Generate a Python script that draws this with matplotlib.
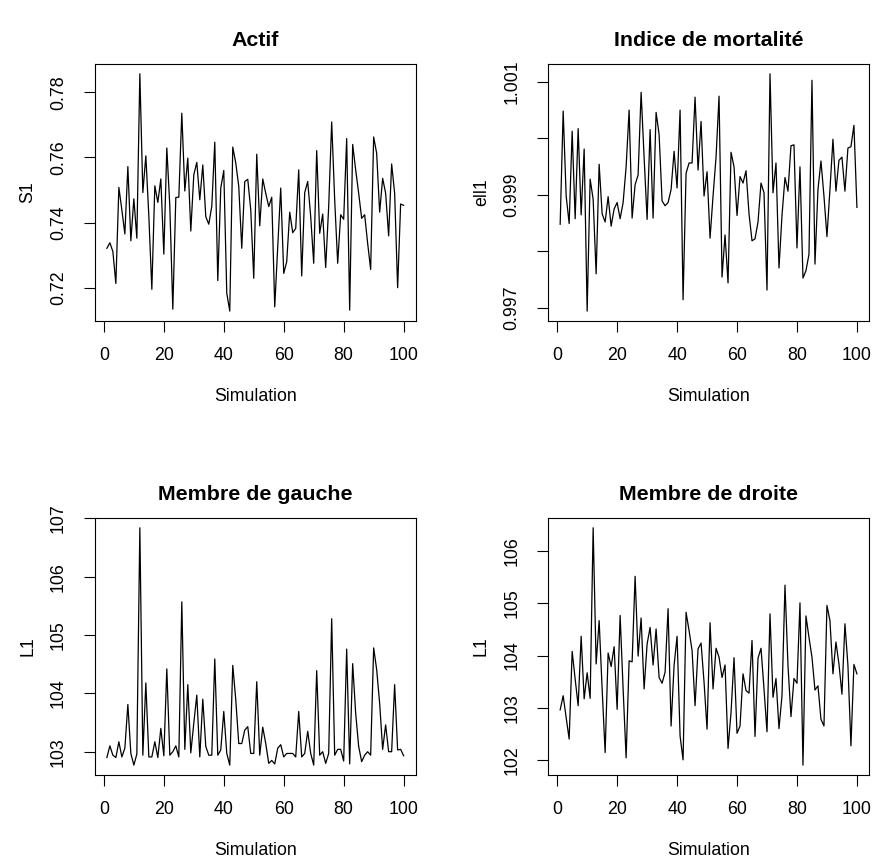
import numpy as np
import matplotlib
matplotlib.use("Agg")
from matplotlib import pyplot as plt

plt.rcParams['font.family'] = ['Liberation Sans', 'DejaVu Sans']

sim = np.arange(1, 101)

s1 = [0.7321, 0.7338, 0.7311, 0.7213, 0.7508, 0.7439, 0.7365, 0.7572, 0.7344, 0.7473,
      0.7352, 0.7857, 0.7492, 0.7605, 0.7420, 0.7195, 0.7513, 0.7462, 0.7534, 0.7303,
      0.7629, 0.7450, 0.7134, 0.7477, 0.7478, 0.7736, 0.7497, 0.7598, 0.7374, 0.7547,
      0.7585, 0.7470, 0.7577, 0.7418, 0.7395, 0.7450, 0.7647, 0.7222, 0.7506, 0.7560,
      0.7183, 0.7128, 0.7632, 0.7583, 0.7511, 0.7321, 0.7526, 0.7533, 0.7439, 0.7229,
      0.7610, 0.7390, 0.7534, 0.7490, 0.7449, 0.7478, 0.7141, 0.7326, 0.7506, 0.7244,
      0.7280, 0.7432, 0.7369, 0.7382, 0.7562, 0.7236, 0.7492, 0.7526, 0.7418, 0.7275,
      0.7621, 0.7367, 0.7426, 0.7262, 0.7450, 0.7709, 0.7470, 0.7275, 0.7424, 0.7410,
      0.7658, 0.7131, 0.7640, 0.7562, 0.7490, 0.7413, 0.7424, 0.7336, 0.7256, 0.7663,
      0.7613, 0.7432, 0.7536, 0.7490, 0.7359, 0.7580, 0.7490, 0.7200, 0.7457, 0.7453]

ell1 = [0.998477, 1.000483, 0.998977, 0.998489, 1.000126, 0.998575, 1.000172, 0.998644, 0.999810, 0.996937,
        0.999276, 0.998920, 0.997598, 0.999540, 0.998661, 0.998517, 0.998966, 0.998443, 0.998747, 0.998862,
        0.998575, 0.998862, 0.999494, 1.000500, 0.998586, 0.999178, 0.999350, 1.000816, 0.999667, 0.998563,
        1.000155, 0.998586, 1.000460, 1.000070, 0.998890, 0.998805, 0.998862, 0.999092, 0.999770, 0.999120,
        1.000500, 0.997138, 0.999380, 0.999563, 0.999563, 1.000730, 0.999437, 1.000299, 0.998977, 0.999408,
        0.998230, 0.998977, 0.999667, 1.000747, 0.997540, 0.998287, 0.997437, 0.999753, 0.999494, 0.998632,
        0.999322, 0.999207, 0.999425, 0.998661, 0.998184, 0.998218, 0.998517, 0.999207, 0.999034, 0.997310,
        1.001144, 0.999034, 0.999563, 0.997701, 0.998632, 0.999305, 0.999063, 0.999868, 0.999885, 0.998057,
        0.999494, 0.997523, 0.997655, 0.997943, 1.001029, 0.997770, 0.999092, 0.999598, 0.998977, 0.998259,
        0.999092, 0.999983, 0.999063, 0.999609, 0.999667, 0.999063, 0.999828, 0.999851, 1.000230, 0.998776]

l1_gauche = [102.90, 103.10, 102.94, 102.90, 103.17, 102.91, 103.06, 103.81, 102.97, 102.77,
             102.96, 106.84, 102.94, 104.18, 102.91, 102.91, 103.17, 102.90, 103.40, 102.93,
             104.42, 102.94, 103.00, 103.10, 102.91, 105.57, 103.04, 104.15, 102.98, 103.49,
             103.97, 102.91, 103.90, 103.09, 102.94, 102.94, 104.59, 102.94, 103.03, 103.69,
             102.97, 102.77, 104.48, 103.89, 103.14, 103.14, 103.37, 103.43, 102.97, 102.97,
             104.20, 102.94, 103.42, 103.14, 102.80, 102.85, 102.79, 103.06, 103.12, 102.91,
             102.97, 102.97, 102.97, 102.91, 103.69, 102.91, 102.97, 103.35, 102.97, 102.77,
             104.39, 102.94, 103.00, 102.80, 102.97, 105.28, 102.94, 103.04, 103.04, 102.84,
             104.76, 102.79, 104.51, 103.66, 103.09, 102.83, 102.94, 103.00, 102.94, 104.78,
             104.41, 103.83, 103.04, 103.46, 103.00, 103.00, 104.15, 103.03, 103.04, 102.93]

l1_droite = [102.96, 103.23, 102.81, 102.40, 104.08, 103.55, 103.04, 104.37, 103.17, 103.67,
             103.18, 106.45, 103.84, 104.67, 103.36, 102.14, 104.05, 103.79, 104.17, 102.97,
             104.77, 103.36, 102.04, 103.90, 103.88, 105.52, 103.99, 104.72, 103.36, 104.22,
             104.54, 103.82, 104.51, 103.58, 103.47, 103.68, 104.90, 102.65, 103.81, 104.37,
             102.46, 102.00, 104.83, 104.48, 104.10, 103.04, 104.13, 104.24, 103.49, 102.59,
             104.63, 103.36, 104.14, 103.97, 103.58, 103.82, 102.22, 102.91, 103.96, 102.51,
             102.65, 103.65, 103.33, 103.28, 104.29, 102.45, 103.95, 104.14, 103.36, 102.54,
             104.80, 103.20, 103.56, 102.60, 103.23, 105.35, 103.81, 102.83, 103.56, 103.47,
             105.01, 101.90, 104.76, 104.35, 103.97, 103.34, 103.42, 102.78, 102.65, 104.96,
             104.67, 103.65, 104.26, 103.84, 103.26, 104.61, 103.81, 102.27, 103.83, 103.65]

titles = ["Actif", "Indice de mortalité", "Membre de gauche", "Membre de droite"]
ylabels = ["S1", "ell1", "L1", "L1"]
xticks = [0, 20, 40, 60, 80, 100]
yticks = [[0.72, 0.74, 0.76, 0.78],
          [0.997, 0.998, 0.999, 1.000, 1.001],
          [103, 104, 105, 106, 107],
          [102, 103, 104, 105, 106]]
ytick_labels = [["0.72", "0.74", "0.76", "0.78"],
                ["0.997", "", "0.999", "", "1.001"],
                ["103", "104", "105", "106", "107"],
                ["102", "103", "104", "105", "106"]]
series = [s1, ell1, l1_gauche, l1_droite]

W, H = 874, 861
fig = plt.figure(figsize=(W / 100, H / 100), dpi=100)

# panel boxes in pixels: left, top
boxes = [(95, 64.3), (548.3, 64.3), (95, 518.3), (548.3, 518.3)]
bw, bh = 320.5, 256.3

for k in range(4):
    left, top = boxes[k]
    ax = fig.add_axes([left / W, (H - top - bh) / H, bw / W, bh / H])
    y = np.array(series[k])
    ax.plot(sim, y, color='black', lw=0.9)

    # R style 4% extension of the ranges
    xr = sim.max() - sim.min()
    ax.set_xlim(sim.min() - 0.04 * xr, sim.max() + 0.04 * xr)
    yr = y.max() - y.min()
    ax.set_ylim(y.min() - 0.04 * yr, y.max() + 0.04 * yr)

    ax.set_xticks(xticks)
    ax.set_xticklabels([str(t) for t in xticks])
    ax.set_yticks(yticks[k])
    ax.set_yticklabels(ytick_labels[k], rotation=90, va='center')

    ax.tick_params(axis='both', direction='out', length=7.7, width=0.8,
                   labelsize=12.8, color='black')
    ax.tick_params(axis='x', pad=11)
    ax.tick_params(axis='y', pad=12.4)
    for sp in ax.spines.values():
        sp.set_linewidth(0.8)

    ax.text(0.5, 1 + 24 / bh, titles[k], transform=ax.transAxes,
            ha='center', va='center', fontsize=15.4, fontweight='bold')
    ax.text(0.5, -76 / bh, "Simulation", transform=ax.transAxes,
            ha='center', va='center', fontsize=12.8)
    ax.text(-67 / bw, 0.5, ylabels[k], transform=ax.transAxes,
            ha='center', va='center', rotation=90, fontsize=12.8)

fig.savefig("out.png", dpi=100)
